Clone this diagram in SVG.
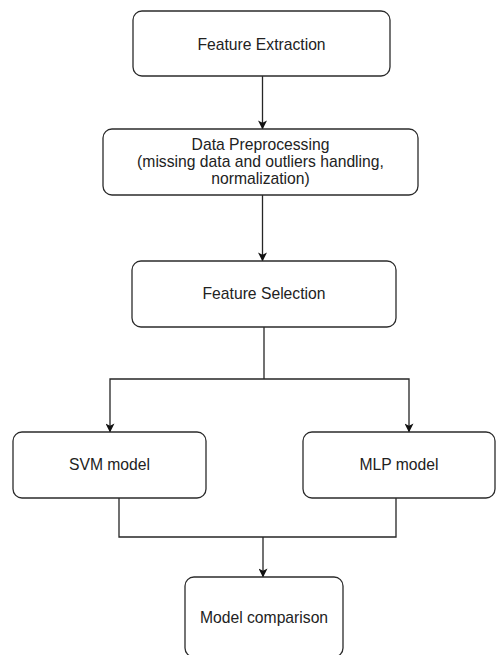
<svg xmlns="http://www.w3.org/2000/svg" width="504" height="655" viewBox="0 0 504 655">
  <defs>
    <style>
      .box { fill: #ffffff; stroke: #2b2b2b; stroke-width: 1.3; }
      .lbl { font-family: "Liberation Sans", Arial, Helvetica, sans-serif; font-size: 15.7px; fill: #222222; text-anchor: middle; }
      .edge { fill: none; stroke: #262626; stroke-width: 1.3; }
    </style>
    <marker id="arrow" viewBox="0 0 10 10" refX="9.5" refY="5" markerWidth="9" markerHeight="9" markerUnits="userSpaceOnUse" orient="auto">
      <path d="M0,0 L10,5 L0,10 L2.5,5 Z" fill="#111111"/>
    </marker>
  </defs>
  <rect width="504" height="655" fill="#ffffff"/>

  <g id="connectors">
    <path class="edge" d="M262.5,76 V129" marker-end="url(#arrow)"/>
    <path class="edge" d="M262.5,195 V261" marker-end="url(#arrow)"/>
    <path class="edge" d="M264,327 V379"/>
    <path class="edge" d="M264,379 H110 V432" marker-end="url(#arrow)"/>
    <path class="edge" d="M264,379 H409 V432" marker-end="url(#arrow)"/>
    <path class="edge" d="M119,498 V537 H396 V498"/>
    <path class="edge" d="M263,537 V577" marker-end="url(#arrow)"/>
  </g>

  <g id="feature-extraction">
    <rect class="box" x="133" y="11" width="257" height="65" rx="9"/>
    <text class="lbl" x="261.5" y="50">Feature Extraction</text>
  </g>

  <g id="data-preprocessing">
    <rect class="box" x="103" y="129" width="315" height="66" rx="9"/>
    <text class="lbl" x="260.5" y="150">Data Preprocessing</text>
    <text class="lbl" x="260.5" y="167">(missing data and outliers handling,</text>
    <text class="lbl" x="260.5" y="184">normalization)</text>
  </g>

  <g id="feature-selection">
    <rect class="box" x="132" y="261" width="264" height="66" rx="9"/>
    <text class="lbl" x="264" y="299">Feature Selection</text>
  </g>

  <g id="svm-model">
    <rect class="box" x="13" y="432" width="193" height="66" rx="9"/>
    <text class="lbl" x="109.5" y="470">SVM model</text>
  </g>

  <g id="mlp-model">
    <rect class="box" x="303" y="432" width="192" height="66" rx="9"/>
    <text class="lbl" x="399" y="470">MLP model</text>
  </g>

  <g id="model-comparison">
    <rect class="box" x="185" y="577" width="158" height="80" rx="9"/>
    <text class="lbl" x="264" y="623">Model comparison</text>
  </g>
</svg>
